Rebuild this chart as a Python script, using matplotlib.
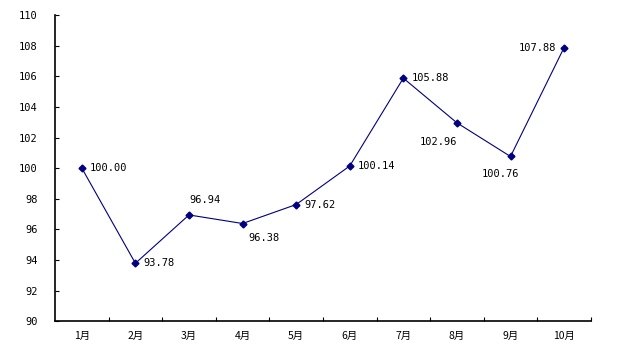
import matplotlib
matplotlib.use("Agg")
import matplotlib.pyplot as plt

plt.rcParams['font.family'] = ['DejaVu Sans Mono', 'Noto Sans CJK SC']

months = ["1月", "2月", "3月", "4月", "5月", "6月", "7月", "8月", "9月", "10月"]
values = [100.00, 93.78, 96.94, 96.38, 97.62, 100.14, 105.88, 102.96, 100.76, 107.88]
yticks = [90, 92, 94, 96, 98, 100, 102, 104, 106, 108, 110]

# label offsets in points (dx, dy, ha, va)
offsets = [(6, 0, 'left', 'center'), (6, 0, 'left', 'center'), (0, 7, 'left', 'bottom'),
           (4, -7, 'left', 'top'), (6, 0, 'left', 'center'), (6, 0, 'left', 'center'),
           (6, 0, 'left', 'center'), (0, -10, 'right', 'top'), (6, -9, 'right', 'top'),
           (-6, 0, 'right', 'center')]

fig = plt.figure(figsize=(6.26, 3.6), dpi=100)
ax = fig.add_axes([0.0879, 0.108, 0.856, 0.85])
x = list(range(len(months)))
ax.plot(x, values, color='#000080', lw=0.8, marker='D', ms=3.5, mfc='#000080', mec='#000080')

for i, v in enumerate(values):
    dx, dy, ha, va = offsets[i]
    ax.annotate(f"{v:.2f}", (i, v), xytext=(dx, dy), textcoords='offset points',
                ha=ha, va=va, fontsize=7.5)

ax.set_xlim(-0.5, len(months) - 0.5)
ax.set_ylim(90, 110)
ax.set_yticks(yticks)
ax.set_yticklabels([str(t) for t in yticks], fontsize=7.5)
ax.set_xticks([i + 0.5 for i in range(len(months))])
ax.set_xticklabels([])
ax.set_xticks(x, minor=True)
ax.set_xticklabels(months, minor=True, fontsize=7.5,
                   fontfamily=['Noto Sans CJK SC'])
ax.tick_params(axis='x', which='minor', length=0, pad=7)
ax.tick_params(axis='x', which='major', direction='in', length=3)
ax.tick_params(axis='y', direction='in', length=3, pad=12.5)
for s in ['top', 'right']:
    ax.spines[s].set_visible(False)
for s in ['left', 'bottom']:
    ax.spines[s].set_linewidth(1.2)

fig.savefig("out.png", dpi=100)
